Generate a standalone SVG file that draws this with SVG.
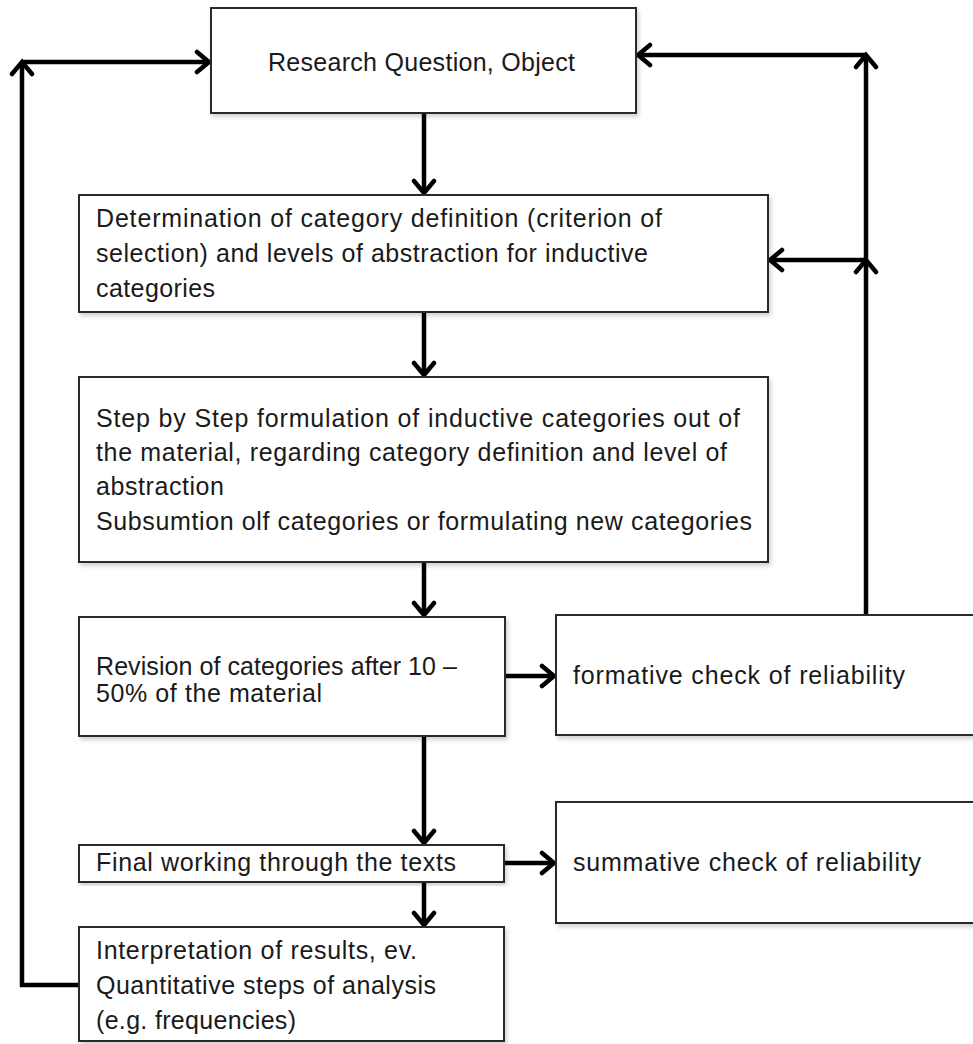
<svg xmlns="http://www.w3.org/2000/svg" width="973" height="1044" viewBox="0 0 973 1044">
<defs>
<marker id="arr" markerUnits="userSpaceOnUse" markerWidth="30" markerHeight="30" viewBox="-15 -15 30 30" refX="0" refY="0" orient="auto">
<path d="M -12 -10 L 0 0 L -12 10" fill="none" stroke="#000" stroke-width="4.5" stroke-linecap="round" stroke-linejoin="miter"/>
</marker>
<filter id="sh" x="-5%" y="-5%" width="110%" height="115%">
<feDropShadow dx="2" dy="3" stdDeviation="2" flood-color="#000" flood-opacity="0.18"/>
</filter>
</defs>
<style>
.box{fill:#fff;stroke:#2b2b2b;stroke-width:2;filter:url(#sh)}
.t{font-family:"Liberation Sans",Arial,sans-serif;font-size:25px;fill:#1a1a1a}
.c{fill:none;stroke:#000;stroke-width:4.5;marker-end:url(#arr)}
</style>
<rect width="973" height="1044" fill="#fff"/>
<g id="connectors">
<path class="c" d="M 424 113 L 424 193"/>
<path class="c" d="M 424 312 L 424 375"/>
<path class="c" d="M 424 562 L 424 615"/>
<path class="c" d="M 424 736 L 424 843"/>
<path class="c" d="M 424 882 L 424 925"/>
<path class="c" d="M 505 676 L 554 676"/>
<path class="c" d="M 505 863 L 554 863"/>
<path class="c" d="M 79 985 L 22 985 L 22 62"/>
<path class="c" d="M 22 62 L 209 62"/>
<path class="c" d="M 866 617 L 866 260"/>
<path class="c" d="M 866 260 L 866 55"/>
<path class="c" d="M 866 55 L 638 55"/>
<path class="c" d="M 866 260 L 770 260"/>
</g>
<g id="n1"><rect class="box" x="211" y="8" width="425" height="105"/>
<text class="t" x="268" y="71" textLength="307" lengthAdjust="spacing">Research Question, Object</text></g>
<g id="n2"><rect class="box" x="79" y="195" width="689" height="117"/>
<text class="t" x="96" y="227" textLength="566" lengthAdjust="spacing">Determination of category definition (criterion of</text>
<text class="t" x="96" y="262" textLength="552" lengthAdjust="spacing">selection) and levels of abstraction for inductive</text>
<text class="t" x="96" y="297" textLength="119" lengthAdjust="spacing">categories</text></g>
<g id="n3"><rect class="box" x="79" y="377" width="689" height="185"/>
<text class="t" x="96" y="427" textLength="644" lengthAdjust="spacing">Step by Step formulation of inductive categories out of</text>
<text class="t" x="96" y="461" textLength="631" lengthAdjust="spacing">the material, regarding category definition and level of</text>
<text class="t" x="96" y="495" textLength="128" lengthAdjust="spacing">abstraction</text>
<text class="t" x="96" y="530" textLength="656" lengthAdjust="spacing">Subsumtion  olf categories or formulating new categories</text></g>
<g id="n4"><rect class="box" x="79" y="617" width="426" height="119"/>
<text class="t" x="96" y="675" textLength="361" lengthAdjust="spacing">Revision of categories after 10 –</text>
<text class="t" x="96" y="702" textLength="226" lengthAdjust="spacing">50% of the material</text></g>
<g id="n5"><rect class="box" x="556" y="615" width="430" height="120"/>
<text class="t" x="573" y="684" textLength="332" lengthAdjust="spacing">formative check of reliability</text></g>
<g id="n6"><rect class="box" x="79" y="845" width="425" height="37"/>
<text class="t" x="96" y="871" textLength="360" lengthAdjust="spacing">Final working through the texts</text></g>
<g id="n7"><rect class="box" x="556" y="802" width="430" height="121"/>
<text class="t" x="573" y="871" textLength="348" lengthAdjust="spacing">summative check of reliability</text></g>
<g id="n8"><rect class="box" x="79" y="927" width="425" height="114"/>
<text class="t" x="96" y="959" textLength="321" lengthAdjust="spacing">Interpretation of results, ev.</text>
<text class="t" x="96" y="994" textLength="340" lengthAdjust="spacing">Quantitative steps of analysis</text>
<text class="t" x="96" y="1029" textLength="200" lengthAdjust="spacing">(e.g. frequencies)</text></g>
</svg>
